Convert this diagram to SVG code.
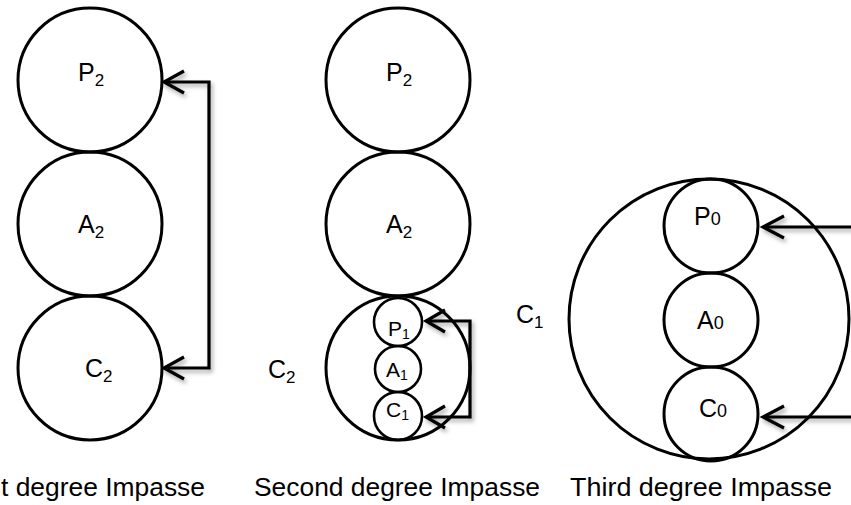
<svg xmlns="http://www.w3.org/2000/svg" width="851" height="505" viewBox="0 0 851 505">
<style>
.c{fill:none;stroke:#000;stroke-width:3}
.cs{fill:none;stroke:#000;stroke-width:2.6}
.t{font-family:"Liberation Sans",Arial,sans-serif;font-size:25px;fill:#000}
.ts{font-family:"Liberation Sans",Arial,sans-serif;font-size:21px;fill:#000}
.cap{font-family:"Liberation Sans",Arial,sans-serif;font-size:26px;fill:#000}
.a{fill:none;stroke:#000;stroke-width:3.2;stroke-linejoin:miter}
</style>
<defs>
<filter id="sh" x="-10%" y="-10%" width="130%" height="130%">
<feDropShadow dx="2" dy="3" stdDeviation="2" flood-color="#000" flood-opacity="0.35"/>
</filter>
</defs>
<rect width="851" height="505" fill="#fff"/>

<g id="col1">
<g id="P2a"><circle class="c" cx="90" cy="80" r="72"/><text class="t" x="78" y="81">P<tspan font-size="17" dy="5">2</tspan></text></g>
<g id="A2a"><circle class="c" cx="90" cy="224" r="72"/><text class="t" x="78" y="233">A<tspan font-size="17" dy="5">2</tspan></text></g>
<g id="C2a"><circle class="c" cx="90" cy="368" r="72"/><text class="t" x="85" y="377">C<tspan font-size="17" dy="5">2</tspan></text></g>
</g>

<g id="col2">
<g id="P2b"><circle class="c" cx="398" cy="80" r="72"/><text class="t" x="386" y="81">P<tspan font-size="17" dy="5">2</tspan></text></g>
<g id="A2b"><circle class="c" cx="398" cy="224" r="72"/><text class="t" x="386" y="233">A<tspan font-size="17" dy="5">2</tspan></text></g>
<g id="C2b"><circle class="c" cx="398" cy="368" r="72"/><text class="t" x="268" y="378">C<tspan font-size="17" dy="5">2</tspan></text></g>
<g id="P1b"><circle class="cs" cx="398" cy="322" r="24"/><text class="ts" x="388" y="336">P<tspan font-size="14" dy="3">1</tspan></text></g>
<g id="A1b"><circle class="cs" cx="398" cy="369" r="23"/><text class="ts" x="386" y="377">A<tspan font-size="14" dy="3">1</tspan></text></g>
<g id="C1b"><circle class="cs" cx="398" cy="416" r="24"/><text class="ts" x="386" y="417">C<tspan font-size="14" dy="3">1</tspan></text></g>
</g>

<g id="col3">
<g id="C1c"><circle class="c" cx="709" cy="319" r="140"/><text class="t" x="516" y="323">C<tspan font-size="17" dy="5">1</tspan></text></g>
<g id="P0c"><circle class="c" cx="711" cy="226" r="47"/><text class="t" x="694" y="225">P<tspan font-size="18">0</tspan></text></g>
<g id="A0c"><circle class="c" cx="711" cy="320" r="47"/><text class="t" x="697" y="329">A<tspan font-size="18">0</tspan></text></g>
<g id="C0c"><circle class="c" cx="711" cy="414" r="47"/><text class="t" x="699" y="417">C<tspan font-size="18">0</tspan></text></g>
</g>

<g id="connectors" filter="url(#sh)">
<path class="a" d="M164,82 H209 V368 H164"/>
<path class="a" d="M184,71 L164,82 L184,93 M184,357 L164,368 L184,379"/>
<path class="a" d="M426,321 H470 V417 H426"/>
<path class="a" d="M445,310 L426,321 L445,332 M445,406 L426,417 L445,428"/>
<path class="a" d="M763,227 H860 M763,417 H860"/>
<path class="a" d="M784,216 L763,227 L784,238 M784,406 L763,417 L784,428"/>
</g>

<g id="captions">
<text class="cap" x="1" y="496" textLength="204" lengthAdjust="spacingAndGlyphs">t degree Impasse</text>
<text class="cap" x="254" y="496" textLength="286" lengthAdjust="spacingAndGlyphs">Second degree Impasse</text>
<text class="cap" x="570" y="496" textLength="262" lengthAdjust="spacingAndGlyphs">Third degree Impasse</text>
</g>
</svg>
